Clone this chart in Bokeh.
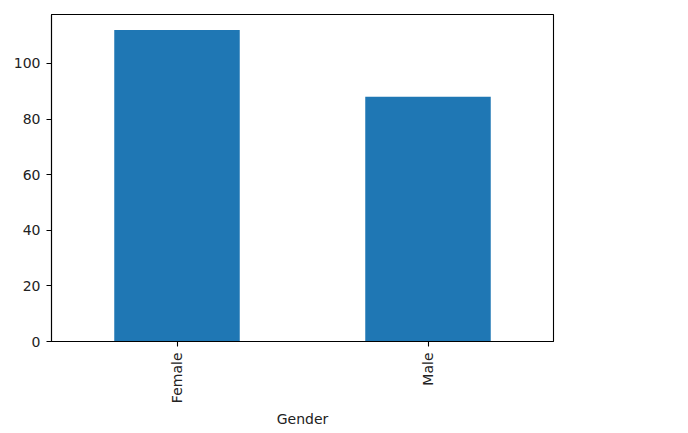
import math
from bokeh.plotting import figure
from bokeh.models import Range1d, FixedTicker, ColumnDataSource
from bokeh.embed import file_html
from bokeh.resources import INLINE

categories = ["Female", "Male"]
counts = [112, 88]
y_ticks = [0, 20, 40, 60, 80, 100]

xpos = list(range(len(categories)))
src = ColumnDataSource(dict(x=xpos, top=counts))

p = figure(width=564, height=430, output_backend="svg", toolbar_location=None,
           x_range=Range1d(-0.5, len(categories) - 0.5),
           y_range=Range1d(0, max(counts) * 1.05),
           min_border_left=51, min_border_right=11, min_border_top=14, min_border_bottom=84)

p.vbar(x="x", top="top", width=0.5, source=src, color="#1f77b4", line_color=None)

p.xgrid.visible = False
p.ygrid.visible = False
p.outline_line_color = "black"
p.outline_line_width = 1.1

p.xaxis.ticker = FixedTicker(ticks=xpos)
p.xaxis.major_label_overrides = {i: c for i, c in enumerate(categories)}
p.xaxis.major_label_orientation = math.pi / 2
p.yaxis.ticker = FixedTicker(ticks=y_ticks)
p.xaxis.axis_label = "Gender"

for ax in (p.xaxis[0], p.yaxis[0]):
    ax.axis_line_color = "black"
    ax.axis_line_width = 1.1
    ax.major_tick_line_color = "black"
    ax.major_tick_line_width = 1.1
    ax.major_tick_out = 5
    ax.major_tick_in = 0
    ax.minor_tick_out = 0
    ax.minor_tick_in = 0
    ax.major_label_text_font = "DejaVu Sans"
    ax.major_label_text_font_size = "14px"
    ax.major_label_text_color = "#222222"
    ax.axis_label_text_font = "DejaVu Sans"
    ax.axis_label_text_font_size = "14px"
    ax.axis_label_text_font_style = "normal"
    ax.axis_label_text_color = "#222222"
    ax.major_label_standoff = 6

p.xaxis.axis_label_standoff = 5
p.yaxis.major_label_standoff = 6

open("out.html", "w").write(file_html(p, INLINE))
